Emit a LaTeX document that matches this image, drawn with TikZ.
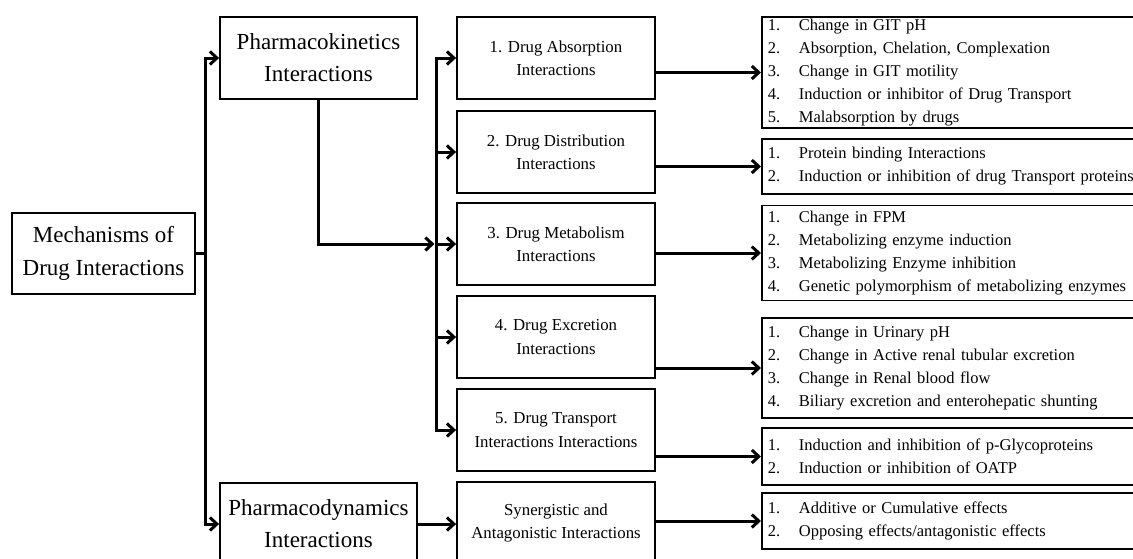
\documentclass[tikz,border=0pt]{standalone}
\usepackage{fontspec}
\setmainfont{Liberation Serif}
\usetikzlibrary{arrows.meta}
\newcommand\ritem[2]{\makebox[31pt][l]{#1}#2}
\begin{document}
\begin{tikzpicture}[x=1pt,y=-1pt,
  box/.style={draw, line width=1.8pt, inner sep=0pt, align=center},
  big/.style={box, font=\fontsize{23}{32}\selectfont, minimum width=197pt, minimum height=82pt},
  mid/.style={box, font=\fontsize{16.8}{23.5}\selectfont, minimum width=198pt, minimum height=82pt},
  lst/.style={draw, line width=1.8pt, anchor=west, inner xsep=6pt, inner ysep=0pt, text width=388pt, align=left, font=\fontsize{16.5}{23}\selectfont},
  conn/.style={line width=3pt},
  tip/.tip={Straight Barb[length=7pt,width=13pt]},
  arr/.style={conn, -tip},
  arr2/.style={conn, tip-tip},
]
\useasboundingbox (0,0) rectangle (1133,558);
% left column
\node[box, font=\fontsize{23}{33}\selectfont, minimum width=183pt, minimum height=81pt] (mech) at (103.5,253.5) {Mechanisms of\\Drug Interactions};
\node[big] (pk) at (318.5,58) {Pharmacokinetics\\Interactions};
\node[big] (pd) at (318.5,524) {Pharmacodynamics\\Interactions};
% middle column
\node[mid] (m1) at (556,58) {1. Drug Absorption\\Interactions};
\node[mid] (m2) at (556,152) {2. Drug Distribution\\Interactions};
\node[mid] (m3) at (556,244) {3. Drug Metabolism\\Interactions};
\node[mid] (m4) at (556,337) {4. Drug Excretion\\Interactions};
\node[mid] (m5) at (556,430) {5. Drug Transport\\Interactions Interactions};
\node[mid] (m6) at (556,523) {Synergistic and\\Antagonistic Interactions};
% right column
\node[lst, minimum height=111pt] (ra) at (761,72.5) {\ritem{1.}{Change in GIT pH}\\\ritem{2.}{Absorption, Chelation, Complexation}\\\ritem{3.}{Change in GIT motility}\\\ritem{4.}{Induction or inhibitor of Drug Transport}\\\ritem{5.}{Malabsorption by drugs}};
\node[lst, minimum height=55pt] (rb) at (761,166.5) {\ritem{1.}{Protein binding Interactions}\\\ritem{2.}{Induction or inhibition of drug Transport proteins}};
\node[lst, minimum height=95pt] (rc) at (761,253) {\ritem{1.}{Change in FPM}\\\ritem{2.}{Metabolizing enzyme induction}\\\ritem{3.}{Metabolizing Enzyme inhibition}\\\ritem{4.}{Genetic polymorphism of metabolizing enzymes}};
\node[lst, minimum height=100pt] (rd) at (761,368) {\ritem{1.}{Change in Urinary pH}\\\ritem{2.}{Change in Active renal tubular excretion}\\\ritem{3.}{Change in Renal blood flow}\\\ritem{4.}{Biliary excretion and enterohepatic shunting}};
\node[lst, minimum height=57pt] (re) at (761,456.5) {\ritem{1.}{Induction and inhibition of p-Glycoproteins}\\\ritem{2.}{Induction or inhibition of OATP}};
\node[lst, minimum height=56pt] (rf) at (761,521) {\ritem{1.}{Additive or Cumulative effects}\\\ritem{2.}{Opposing effects/antagonistic effects}};
% connectors
\coordinate (lx) at (205,0);
\coordinate (bx) at (436,0);
\draw[conn] (mech.east) -- (lx |- mech.east);
\draw[arr2] (pk.west) -- (lx |- pk.west) -- (lx |- pd.west) -- (pd.west);
\draw[arr2] (m1.west) -- (bx |- m1.west) -- (bx |- m5.west) -- (m5.west);
\foreach \m in {m2,m3,m4} \draw[arr] (bx |- \m.west) -- (\m.west);
\draw[arr, shorten >=1.5pt] (pk.south) |- (bx |- m3.west);
\draw[arr] (pd.east) -- (m6.west |- pd.east);
\draw[arr] (m1.east |- ra.west) -- (ra.west);
\draw[arr] (m2.east |- rb.west) -- (rb.west);
\draw[arr] (m3.east |- rc.west) -- (rc.west);
\draw[arr] (m4.east |- rd.west) -- (rd.west);
\draw[arr] (m5.east |- re.west) -- (re.west);
\draw[arr] (m6.east |- rf.west) -- (rf.west);
\end{tikzpicture}
\end{document}
